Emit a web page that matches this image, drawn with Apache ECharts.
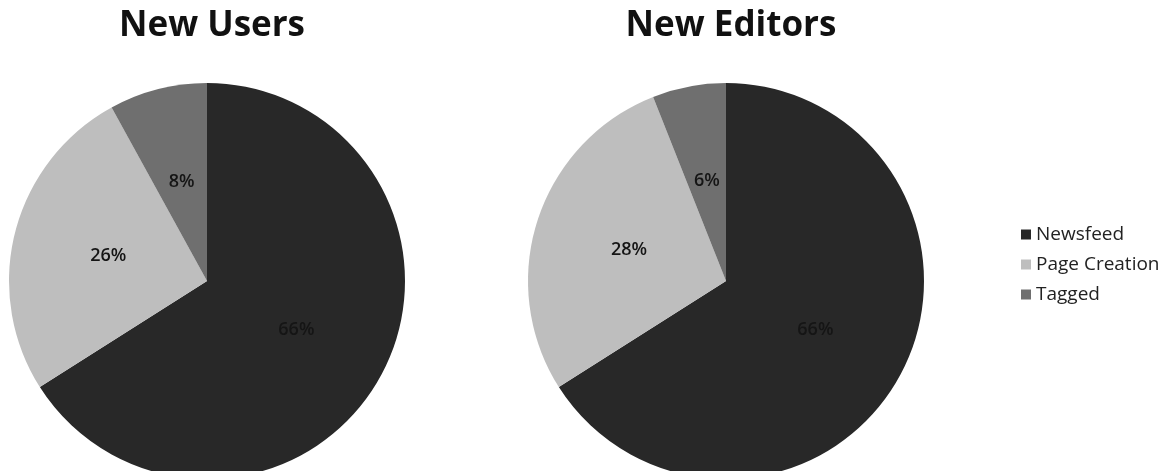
<!DOCTYPE html>
<html>
<head>
<meta charset="utf-8">
<script src="https://cdn.jsdelivr.net/npm/echarts@6/dist/echarts.min.js"></script>
<style>
html,body{margin:0;padding:0;background:#fff;}
#c{width:1176px;height:471px;}
</style>
</head>
<body>
<div id="c"></div>
<script>
const categories = ['Newsfeed', 'Page Creation', 'Tagged'];
const chartTitles = ['New Users', 'New Editors'];
const newUsers = [66, 26, 8];
const newEditors = [66, 28, 6];
const colors = ['#282828', '#bebebe', '#6f6f6f'];

const font = '"Open Sans", "Liberation Sans", sans-serif';
const chart = echarts.init(document.getElementById('c'), null, {renderer: 'canvas'});

function mk(vals) {
  return categories.map((n, i) => ({name: n, value: vals[i]}));
}
const labelStyle = {
  show: true, position: 'inside', formatter: '{c}%',
  color: '#151515', fontFamily: font, fontSize: 18, fontWeight: 600
};

chart.setOption({
  animation: false,
  color: colors,
  title: [
    {text: chartTitles[0], left: 207, top: 4, textAlign: 'center',
     textStyle: {fontFamily: font, fontWeight: 'bold', fontSize: 35, color: '#111'}},
    {text: chartTitles[1], left: 726, top: 4, textAlign: 'center',
     textStyle: {fontFamily: font, fontWeight: 'bold', fontSize: 35, color: '#111'}}
  ],
  legend: {
    orient: 'vertical', left: 1016, top: 220, itemWidth: 10, itemHeight: 10,
    itemGap: 11, icon: 'rect',
    textStyle: {fontFamily: font, fontSize: 19, color: '#222', padding: [0,0,0,0]},
    data: categories
  },
  series: [
    {type: 'pie', center: [207, 281], radius: [0, 198], startAngle: 90, clockwise: true,
     label: labelStyle, labelLine: {show: false}, silent: true,
     itemStyle: {borderWidth: 0}, data: mk(newUsers)},
    {type: 'pie', center: [726, 281], radius: [0, 198], startAngle: 90, clockwise: true,
     label: labelStyle, labelLine: {show: false}, silent: true,
     itemStyle: {borderWidth: 0}, data: mk(newEditors)}
  ]
});
</script>
</body>
</html>
